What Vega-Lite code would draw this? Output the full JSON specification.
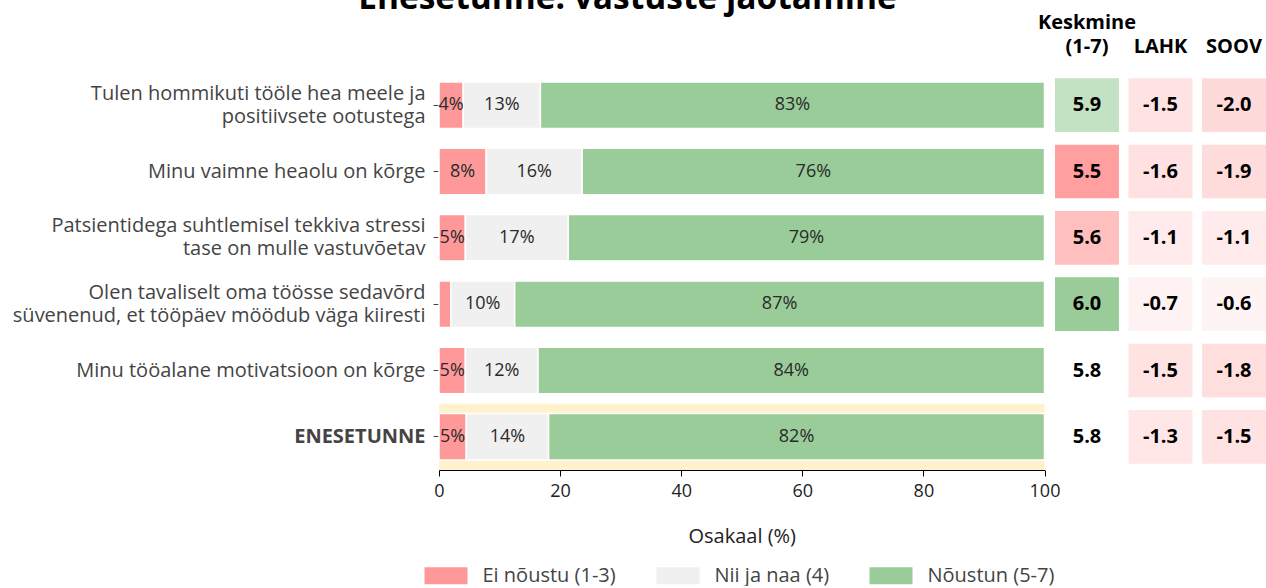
{
  "$schema": "https://vega.github.io/schema/vega-lite/v6.json",
  "padding": {"left": 5, "right": 0, "top": -19, "bottom": 0},
  "title": {"text": "Enesetunne: vastuste jaotamine", "fontSize": 33.5, "fontWeight": "bold", "font": "Open Sans", "color": "#000000", "anchor": "middle", "frame": "bounds", "offset": -4, "dx": -8},
  "config": {
    "font": "Open Sans",
    "view": {"stroke": null},
    "axis": {"grid": false},
    "locale": {"number": {"decimal": ".", "thousands": ",", "grouping": [3], "currency": ["$", ""], "minus": "-"}}
  },
  "datasets": {
    "bars": [
      {"item": "Tulen hommikuti tööle hea meele ja\npositiivsete ootustega", "cat": "Ei nõustu (1-3)", "pct": 4.0, "label": "4%"},
      {"item": "Tulen hommikuti tööle hea meele ja\npositiivsete ootustega", "cat": "Nii ja naa (4)", "pct": 12.75, "label": "13%"},
      {"item": "Tulen hommikuti tööle hea meele ja\npositiivsete ootustega", "cat": "Nõustun (5-7)", "pct": 83.25, "label": "83%"},
      {"item": "Minu vaimne heaolu on kõrge", "cat": "Ei nõustu (1-3)", "pct": 7.8, "label": "8%"},
      {"item": "Minu vaimne heaolu on kõrge", "cat": "Nii ja naa (4)", "pct": 15.85, "label": "16%"},
      {"item": "Minu vaimne heaolu on kõrge", "cat": "Nõustun (5-7)", "pct": 76.35, "label": "76%"},
      {"item": "Patsientidega suhtlemisel tekkiva stressi\ntase on mulle vastuvõetav", "cat": "Ei nõustu (1-3)", "pct": 4.35, "label": "5%"},
      {"item": "Patsientidega suhtlemisel tekkiva stressi\ntase on mulle vastuvõetav", "cat": "Nii ja naa (4)", "pct": 17.0, "label": "17%"},
      {"item": "Patsientidega suhtlemisel tekkiva stressi\ntase on mulle vastuvõetav", "cat": "Nõustun (5-7)", "pct": 78.65, "label": "79%"},
      {"item": "Olen tavaliselt oma töösse sedavõrd\nsüvenenud, et tööpäev möödub väga kiiresti", "cat": "Ei nõustu (1-3)", "pct": 1.95, "label": ""},
      {"item": "Olen tavaliselt oma töösse sedavõrd\nsüvenenud, et tööpäev möödub väga kiiresti", "cat": "Nii ja naa (4)", "pct": 10.55, "label": "10%"},
      {"item": "Olen tavaliselt oma töösse sedavõrd\nsüvenenud, et tööpäev möödub väga kiiresti", "cat": "Nõustun (5-7)", "pct": 87.5, "label": "87%"},
      {"item": "Minu tööalane motivatsioon on kõrge", "cat": "Ei nõustu (1-3)", "pct": 4.35, "label": "5%"},
      {"item": "Minu tööalane motivatsioon on kõrge", "cat": "Nii ja naa (4)", "pct": 12.0, "label": "12%"},
      {"item": "Minu tööalane motivatsioon on kõrge", "cat": "Nõustun (5-7)", "pct": 83.65, "label": "84%"},
      {"item": "ENESETUNNE", "cat": "Ei nõustu (1-3)", "pct": 4.5, "label": "5%"},
      {"item": "ENESETUNNE", "cat": "Nii ja naa (4)", "pct": 13.6, "label": "14%"},
      {"item": "ENESETUNNE", "cat": "Nõustun (5-7)", "pct": 81.9, "label": "82%"}
    ],
    "cells": [
      {"item": "Tulen hommikuti tööle hea meele ja\npositiivsete ootustega", "metric": "Keskmine\n(1-7)", "val": 5.9},
      {"item": "Tulen hommikuti tööle hea meele ja\npositiivsete ootustega", "metric": "LAHK", "val": -1.5},
      {"item": "Tulen hommikuti tööle hea meele ja\npositiivsete ootustega", "metric": "SOOV", "val": -2.0},
      {"item": "Minu vaimne heaolu on kõrge", "metric": "Keskmine\n(1-7)", "val": 5.5},
      {"item": "Minu vaimne heaolu on kõrge", "metric": "LAHK", "val": -1.6},
      {"item": "Minu vaimne heaolu on kõrge", "metric": "SOOV", "val": -1.9},
      {"item": "Patsientidega suhtlemisel tekkiva stressi\ntase on mulle vastuvõetav", "metric": "Keskmine\n(1-7)", "val": 5.6},
      {"item": "Patsientidega suhtlemisel tekkiva stressi\ntase on mulle vastuvõetav", "metric": "LAHK", "val": -1.1},
      {"item": "Patsientidega suhtlemisel tekkiva stressi\ntase on mulle vastuvõetav", "metric": "SOOV", "val": -1.1},
      {"item": "Olen tavaliselt oma töösse sedavõrd\nsüvenenud, et tööpäev möödub väga kiiresti", "metric": "Keskmine\n(1-7)", "val": 6.0},
      {"item": "Olen tavaliselt oma töösse sedavõrd\nsüvenenud, et tööpäev möödub väga kiiresti", "metric": "LAHK", "val": -0.7},
      {"item": "Olen tavaliselt oma töösse sedavõrd\nsüvenenud, et tööpäev möödub väga kiiresti", "metric": "SOOV", "val": -0.6},
      {"item": "Minu tööalane motivatsioon on kõrge", "metric": "Keskmine\n(1-7)", "val": 5.8},
      {"item": "Minu tööalane motivatsioon on kõrge", "metric": "LAHK", "val": -1.5},
      {"item": "Minu tööalane motivatsioon on kõrge", "metric": "SOOV", "val": -1.8},
      {"item": "ENESETUNNE", "metric": "Keskmine\n(1-7)", "val": 5.8},
      {"item": "ENESETUNNE", "metric": "LAHK", "val": -1.3},
      {"item": "ENESETUNNE", "metric": "SOOV", "val": -1.5}
    ]
  },
  "spacing": 10,
  "bounds": "flush",
  "resolve": {"scale": {"y": "independent", "color": "independent"}, "legend": {"color": "independent"}},
  "hconcat": [
    {
      "width": 605.5,
      "height": 398,
      "data": {"name": "bars"},
      "encoding": {
        "y": {
          "field": "item", "type": "nominal", "sort": null,
          "scale": {"domain": [
            "Tulen hommikuti tööle hea meele ja\npositiivsete ootustega",
            "Minu vaimne heaolu on kõrge",
            "Patsientidega suhtlemisel tekkiva stressi\ntase on mulle vastuvõetav",
            "Olen tavaliselt oma töösse sedavõrd\nsüvenenud, et tööpäev möödub väga kiiresti",
            "Minu tööalane motivatsioon on kõrge",
            "ENESETUNNE"], "paddingInner": 0.3, "paddingOuter": 0.15},
          "axis": {
            "title": null, "domain": false, "ticks": true, "tickSize": 6, "tickColor": "#444444",
            "labelFontSize": 20, "labelColor": "#444444", "labelPadding": 8, "labelLineHeight": 23,
            "labelLimit": 600, "minExtent": 434, "maxExtent": 434,
            "labelExpr": "split(datum.value, '\\n')",
            "labelOffset": {"expr": "indexof(datum.value, '\\n') >= 0 ? -11.5 : 0"},
            "labelFontWeight": {"expr": "datum.value == 'ENESETUNNE' ? 'bold' : 'normal'"}
          }
        }
      },
      "layer": [
        {
          "transform": [{"filter": "datum.item == 'ENESETUNNE' && datum.cat == 'Nõustun (5-7)'"}],
          "mark": {"type": "bar", "color": "#fff2cc", "height": {"band": 1.4286}},
          "encoding": {
            "x": {"datum": 0, "type": "quantitative"},
            "x2": {"datum": 100}
          }
        },
        {
          "mark": {"type": "bar", "stroke": "#ffffff", "strokeWidth": 1.5},
          "encoding": {
            "x": {
              "field": "pct", "type": "quantitative", "stack": "zero",
              "scale": {"domain": [0, 100], "nice": false},
              "axis": {
                "values": [0, 20, 40, 60, 80, 100], "title": "Osakaal (%)", "labelFlush": false,
                "domain": true, "domainColor": "#000000", "ticks": true, "tickColor": "#000000", "tickSize": 6,
                "labelFontSize": 18, "labelColor": "#222222", "labelPadding": 6,
                "titleFontSize": 20, "titleFontWeight": "normal", "titleColor": "#222222", "titlePadding": 26
              }
            },
            "order": {"field": "cat", "sort": "ascending"},
            "color": {
              "field": "cat", "type": "nominal",
              "scale": {"domain": ["Ei nõustu (1-3)", "Nii ja naa (4)", "Nõustun (5-7)"], "range": ["#ff9999", "#f0f0f0", "#99cc99"]},
              "legend": {
                "orient": "none", "legendX": -14.5, "legendY": 482, "direction": "horizontal", "title": null,
                "symbolType": "M-1,-0.4H1V0.4H-1Z", "symbolSize": 1849, "symbolStrokeWidth": 0,
                "labelFontSize": 20, "labelColor": "#444444", "labelOffset": 15, "columnPadding": 40, "labelLimit": 400
              }
            }
          }
        },
        {
          "transform": [
            {"stack": "pct", "groupby": ["item"], "sort": [{"field": "cat", "order": "ascending"}], "as": ["x0", "x1"]},
            {"fold": ["x0", "x1"], "as": ["edge", "pos"]}
          ],
          "mark": {"type": "text", "fontSize": 18, "color": "#2a2a2a"},
          "encoding": {
            "x": {"aggregate": "mean", "field": "pos", "type": "quantitative"},
            "text": {"field": "label", "type": "nominal"},
            "detail": {"field": "cat", "type": "nominal"}
          }
        }
      ]
    },
    {
      "width": 211,
      "height": 398,
      "data": {"name": "cells"},
      "encoding": {
        "y": {
          "field": "item", "type": "nominal", "sort": null,
          "scale": {"type": "band", "domain": [
            "Tulen hommikuti tööle hea meele ja\npositiivsete ootustega",
            "Minu vaimne heaolu on kõrge",
            "Patsientidega suhtlemisel tekkiva stressi\ntase on mulle vastuvõetav",
            "Olen tavaliselt oma töösse sedavõrd\nsüvenenud, et tööpäev möödub väga kiiresti",
            "Minu tööalane motivatsioon on kõrge",
            "ENESETUNNE"], "paddingInner": 0.19, "paddingOuter": 0.095},
          "axis": null
        },
        "x": {
          "field": "metric", "type": "nominal", "sort": null,
          "scale": {"type": "band", "domain": ["Keskmine\n(1-7)", "LAHK", "SOOV"], "paddingInner": 0.13, "paddingOuter": 0},
          "axis": {
            "orient": "top", "title": null, "domain": false, "ticks": false, "labelAngle": 0,
            "labelFontSize": 20, "labelFontWeight": "bold", "labelColor": "#000000",
            "labelPadding": 40, "labelBaseline": "bottom", "labelLineHeight": 24,
            "labelExpr": "datum.value == 'LAHK' || datum.value == 'SOOV' ? ['', datum.value] : split(datum.value, '\\n')"
          }
        }
      },
      "layer": [
        {
          "transform": [{"filter": "datum.metric == 'LAHK' || datum.metric == 'SOOV'"}],
          "mark": {"type": "rect"},
          "encoding": {
            "color": {"field": "val", "type": "quantitative", "scale": {"domain": [-5.5, 0], "range": ["#ff9999", "#ffffff"], "interpolate": "rgb"}, "legend": null}
          }
        },
        {
          "transform": [{"filter": "datum.metric != 'LAHK' && datum.metric != 'SOOV'"}],
          "mark": {"type": "rect"},
          "encoding": {
            "color": {"field": "val", "type": "quantitative", "scale": {"domain": [5.48, 5.8, 5.97], "range": ["#ff9999", "#ffffff", "#99cc99"], "interpolate": "rgb", "clamp": true}, "legend": null}
          }
        },
        {
          "mark": {"type": "text", "fontSize": 20, "fontWeight": "bold", "color": "#000000"},
          "encoding": {
            "text": {"field": "val", "type": "quantitative", "format": ".1f"}
          }
        }
      ],
      "resolve": {"scale": {"color": "independent"}}
    }
  ]
}
